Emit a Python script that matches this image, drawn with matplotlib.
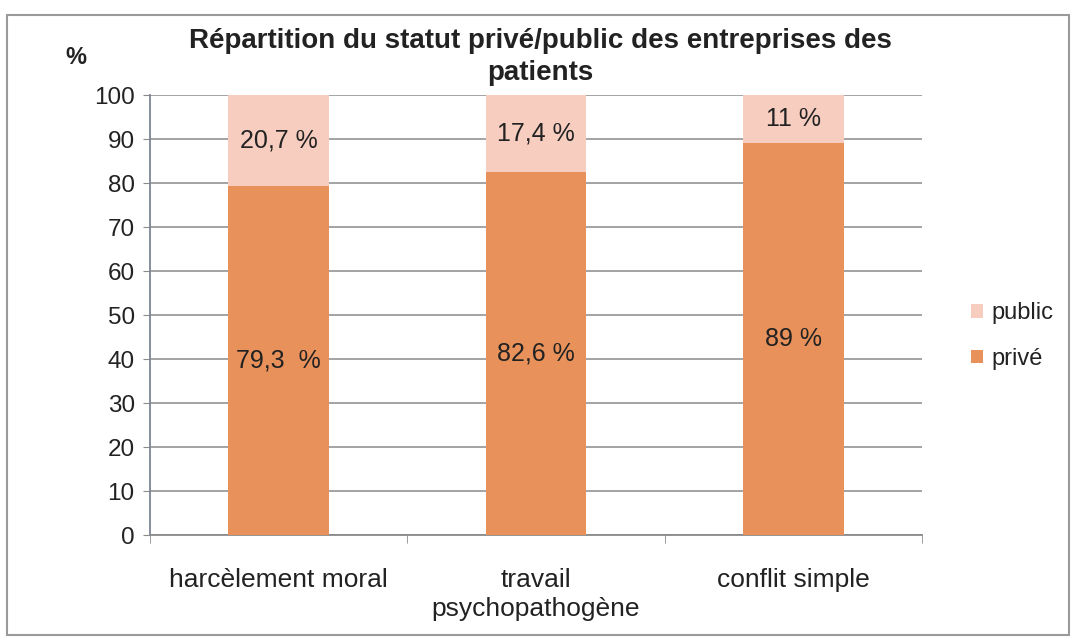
import matplotlib.pyplot as plt
from matplotlib.patches import Rectangle

plt.rcParams['font.family'] = ['Liberation Sans', 'DejaVu Sans']

# Data
categories = ['harcèlement moral', 'travail\npsychopathogène', 'conflit simple']
prive = [79.3, 82.6, 89.0]
public = [20.7, 17.4, 11.0]
prive_labels = ['79,3  %', '82,6 %', '89 %']
public_labels = ['20,7 %', '17,4 %', '11 %']

col_prive = '#E8915A'
col_public = '#F6CDBF'
text_col = '#222222'

fig = plt.figure(figsize=(10.77, 6.43), dpi=100)
ax = fig.add_axes([150 / 1077, 1 - 535 / 643, 772 / 1077, 440 / 643])

x = range(len(categories))
w = 0.39
b1 = ax.bar(x, prive, width=w, color=col_prive, label='privé', zorder=3)
b2 = ax.bar(x, public, width=w, bottom=prive, color=col_public, label='public', zorder=3)

for i in x:
    ax.text(i, prive[i] / 2, prive_labels[i], ha='center', va='center',
            fontsize=18, color=text_col, zorder=4)
    ax.text(i, prive[i] + public[i] / 2, public_labels[i], ha='center', va='center',
            fontsize=18, color=text_col, zorder=4)

ax.set_xlim(-0.5, 2.5)
ax.set_ylim(0, 100)
ax.set_yticks(range(0, 101, 10))
ax.yaxis.grid(True, color='#8a8a8a', linewidth=1.1, zorder=0)
ax.tick_params(axis='y', labelsize=17.5, labelcolor=text_col, length=5,
               color='#8a8a8a', pad=6)

ax.set_xticks(list(x))
ax.set_xticklabels(categories, fontsize=19, color=text_col, linespacing=1.25)
ax.tick_params(axis='x', length=0, pad=24)
ax.set_xticks([-0.5, 0.5, 1.5, 2.5], minor=True)
ax.tick_params(axis='x', which='minor', length=6, color='#8a8a8a')

for s in ['top', 'right']:
    ax.spines[s].set_visible(False)
ax.spines['left'].set_color('#7c8694')
ax.spines['bottom'].set_color('#8a8a8a')
ax.spines['left'].set_linewidth(1.3)
ax.spines['bottom'].set_linewidth(1.3)

fig.text(540 / 1077, 1 - 57 / 643, 'Répartition du statut privé/public des entreprises des\npatients',
         ha='center', va='center', fontsize=20, fontweight='bold', color=text_col,
         linespacing=1.35)
fig.text(76 / 1077, 1 - 57 / 643, '%', ha='center', va='center', fontsize=17,
         fontweight='bold', color=text_col)

handles = [b2, b1]
leg = fig.legend(handles, ['public', 'privé'], loc='center left',
                 bbox_to_anchor=(950 / 1077, 1 - 336 / 643), frameon=False,
                 fontsize=17, handlelength=0.5, handleheight=0.5,
                 handletextpad=0.35, labelspacing=1.0)
for t in leg.get_texts():
    t.set_color(text_col)

# outer frame of the chart area
fig.patches.append(Rectangle((7 / 1077, 8 / 643), 1062 / 1077, 620 / 643,
                             transform=fig.transFigure, fill=False,
                             edgecolor='#9a9a9a', linewidth=1.5))

fig.savefig('out.png', dpi=100)
